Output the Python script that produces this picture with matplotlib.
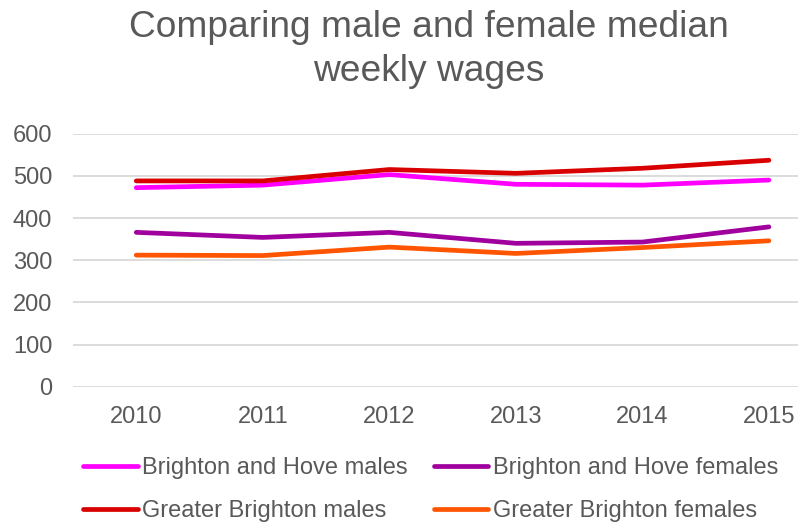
import matplotlib
matplotlib.use("Agg")
import matplotlib.pyplot as plt

years = ["2010", "2011", "2012", "2013", "2014", "2015"]
bh_males = [472, 478, 503, 480, 478, 490]
bh_females = [366, 354, 366, 340, 343, 379]
gb_males = [488, 488, 515, 506, 518, 537]
gb_females = [312, 311, 331, 316, 330, 346]

plt.rcParams['font.family'] = ['Liberation Sans', 'DejaVu Sans']
grey = '#595959'

fig = plt.figure(figsize=(7.98, 5.22), dpi=100)
ax = fig.add_axes([0.0915, 0.2592, 0.9085, 0.4847])

x = list(range(len(years)))
lw = 3.4
l1, = ax.plot(x, bh_males, color='#FF00FF', lw=lw, solid_capstyle='round', label='Brighton and Hove males')
l2, = ax.plot(x, bh_females, color='#A0009E', lw=lw, solid_capstyle='round', label='Brighton and Hove females')
l3, = ax.plot(x, gb_males, color='#D90000', lw=lw, solid_capstyle='round', label='Greater Brighton males')
l4, = ax.plot(x, gb_females, color='#FF5500', lw=lw, solid_capstyle='round', label='Greater Brighton females')

ax.set_ylim(0, 600)
ax.set_yticks(range(0, 601, 100))
ax.set_xlim(-0.5, 5.23)
ax.set_xticks(x)
ax.set_xticklabels(years)
ax.grid(axis='y', color='#D9D9D9', lw=1.3)
ax.set_axisbelow(True)
for s in ax.spines.values():
    s.set_visible(False)
ax.tick_params(length=0, labelsize=17, colors=grey)
ax.tick_params(axis='x', pad=14)
ax.tick_params(axis='y', pad=15)

fig.suptitle('Comparing male and female median\nweekly wages', fontsize=26.7, color=grey,
             x=0.537, y=0.98, va='top', linespacing=1.33)

fig.legend([l1, l3, l2, l4],
           ['Brighton and Hove males', 'Greater Brighton males',
            'Brighton and Hove females', 'Greater Brighton females'],
           ncol=2, loc='center', bbox_to_anchor=(0.540, 0.062), frameon=False,
           fontsize=17, labelcolor=grey, handlelength=2.3, handletextpad=0.2,
           columnspacing=1.1, labelspacing=0.86, borderpad=0, borderaxespad=0)

fig.savefig('out.png', dpi=100)
